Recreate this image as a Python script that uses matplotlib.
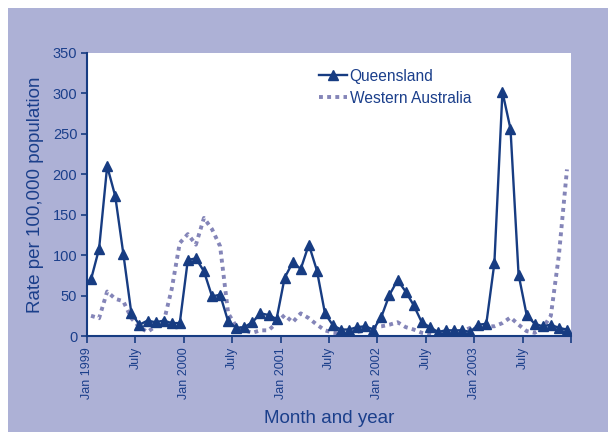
import matplotlib
matplotlib.use("Agg")
import matplotlib.pyplot as plt
import matplotlib.transforms as mtransforms
from matplotlib.patches import Rectangle

# ---- data (monthly, Jan 1999 - Dec 2003) ----
queensland = [70, 108, 210, 173, 102, 28, 14, 19, 17, 19, 16, 16,
              94, 96, 80, 49, 51, 18, 10, 11, 17, 28, 26, 21,
              72, 91, 83, 113, 81, 28, 13, 8, 8, 11, 12, 8,
              24, 51, 69, 55, 38, 17, 11, 5, 7, 7, 7, 5,
              14, 15, 90, 302, 256, 76, 26, 15, 12, 14, 10, 8]
western_australia = [25, 22, 55, 46, 43, 22, 11, 5, 12, 17, 58, 115,
                     126, 113, 146, 132, 111, 28, 12, 7, 4, 7, 7, 16,
                     26, 17, 28, 22, 14, 7, 4, 3, 2, 5, 7, 11,
                     12, 14, 17, 11, 8, 4, 2, 1, 2, 4, 6, 10,
                     12, 12, 12, 16, 23, 14, 6, 4, 10, 25, 100, 206]
tick_labels = ["Jan 1999", "July", "Jan 2000", "July", "Jan 2001", "July",
               "Jan 2002", "July", "Jan 2003", "July", ""]
y_ticks = [0, 50, 100, 150, 200, 250, 300, 350]

NAVY = "#173c82"
TEXT = "#1b3f8b"
WA_COL = "#8485b8"
BG = "#adb1d6"

plt.rcParams["font.family"] = ["Liberation Sans", "DejaVu Sans"]

fig = plt.figure(figsize=(6.08, 4.32), dpi=100, facecolor=BG)
# thin white strips at top and left of the picture
fig.patches.append(Rectangle((0, 1 - 8 / 432), 1, 8 / 432, transform=fig.transFigure,
                             facecolor="white", edgecolor="none", zorder=-10))
fig.patches.append(Rectangle((0, 0), 8 / 608, 1, transform=fig.transFigure,
                             facecolor="white", edgecolor="none", zorder=-10))

ax = fig.add_axes([87 / 608, (432 - 336) / 432, (571 - 87) / 608, (336 - 53) / 432])
ax.set_facecolor("white")

x = list(range(len(queensland)))
ax.plot(x, western_australia, color=WA_COL, lw=2.8, linestyle=(0, (1.0, 1.1)),
        dash_capstyle="butt", label="Western Australia", zorder=2)
ax.plot(x, queensland, color=NAVY, lw=1.7, marker="^", markersize=6.5,
        label="Queensland", zorder=3)

ax.set_xlim(-0.5, len(queensland) - 0.5)
ax.set_ylim(0, 350)
ax.set_yticks(y_ticks)
ax.set_yticklabels([str(v) for v in y_ticks], fontsize=10.5, color=TEXT)

xt = [-0.5 + 6 * k for k in range(len(tick_labels))]
ax.set_xticks(xt)
ax.set_xticklabels(tick_labels, rotation=90, fontsize=9, color=TEXT)
offset = mtransforms.ScaledTranslation(4 / 100, 0, fig.dpi_scale_trans)
for lab in ax.get_xticklabels():
    lab.set_transform(lab.get_transform() + offset)

for s in ["top", "right"]:
    ax.spines[s].set_visible(False)
for s in ["left", "bottom"]:
    ax.spines[s].set_color(NAVY)
    ax.spines[s].set_linewidth(1.5)
ax.tick_params(axis="y", direction="out", length=4, width=1.2, color=NAVY, pad=3)
ax.tick_params(axis="x", direction="out", length=5, width=1.2, color=NAVY, pad=3)

ax.set_ylabel("Rate per 100,000 population", fontsize=13.5, color=TEXT, labelpad=6)
ax.set_xlabel("Month and year", fontsize=13.5, color=TEXT, labelpad=8)

h, l = ax.get_legend_handles_labels()
ax.legend(h[::-1], l[::-1], loc="upper left", bbox_to_anchor=(0.467, 0.966), frameon=False,
          fontsize=11.2, labelcolor=TEXT, handlelength=1.8, handletextpad=0.15,
          labelspacing=0.45, borderaxespad=0)

fig.savefig("out.png", dpi=100, facecolor=BG)
